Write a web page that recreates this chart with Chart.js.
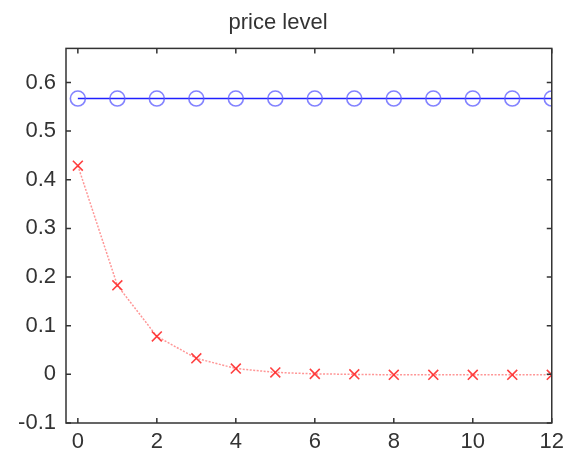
<!DOCTYPE html>
<html>
<head>
<meta charset="utf-8">
<script src="https://cdn.jsdelivr.net/npm/chart.js@4/dist/chart.umd.min.js"></script>
<style>
  html, body { margin: 0; padding: 0; background: #fff; }
  #wrap { width: 570px; height: 457px; }
</style>
</head>
<body>
<div id="wrap"><canvas id="grafico"></canvas></div>
<script>
// datos
const periodos = [0, 1, 2, 3, 4, 5, 6, 7, 8, 9, 10, 11, 12];
const nivelAzul = [0.567, 0.567, 0.567, 0.567, 0.567, 0.567, 0.567, 0.567, 0.567, 0.567, 0.567, 0.567, 0.567];
const nivelRojo = [0.429, 0.183, 0.078, 0.033, 0.012, 0.004, 0.001, 0.0, -0.001, -0.001, -0.001, -0.001, -0.001];
const ticksX = [0, 2, 4, 6, 8, 10, 12];
const ticksY = [-0.1, 0, 0.1, 0.2, 0.3, 0.4, 0.5, 0.6];
const titulo = 'price level';

const puntos = (ys) => periodos.map((x, i) => ({ x: x, y: ys[i] }));
const fuente = 'Liberation Sans, Arial, sans-serif';

// marco y marcas hacia dentro, estilo matlab
const marcoPlugin = {
  id: 'marco',
  afterDraw(chart) {
    const { ctx, chartArea: a, scales } = chart;
    const largo = 5;
    ctx.save();
    ctx.strokeStyle = '#333';
    ctx.lineWidth = 1.5;
    ctx.strokeRect(a.left, a.top, a.right - a.left, a.bottom - a.top);
    ctx.beginPath();
    ticksX.forEach(v => {
      const px = scales.x.getPixelForValue(v);
      ctx.moveTo(px, a.bottom); ctx.lineTo(px, a.bottom - largo);
      ctx.moveTo(px, a.top); ctx.lineTo(px, a.top + largo);
    });
    ticksY.forEach(v => {
      const py = scales.y.getPixelForValue(v);
      ctx.moveTo(a.left, py); ctx.lineTo(a.left + largo, py);
      ctx.moveTo(a.right, py); ctx.lineTo(a.right - largo, py);
    });
    ctx.stroke();
    ctx.restore();
  }
};

const ctx = document.getElementById('grafico').getContext('2d');
const chart = new Chart(ctx, {
  type: 'line',
  data: {
    datasets: [
      {
        label: 'azul',
        data: puntos(nivelAzul),
        borderColor: '#2020ff',
        borderWidth: 1.6,
        pointStyle: 'circle',
        pointRadius: 7.5,
        pointBorderWidth: 1.6,
        pointBorderColor: 'rgba(90, 90, 255, 0.75)',
        pointBackgroundColor: 'rgba(0,0,0,0)',
        fill: false,
        tension: 0
      },
      {
        label: 'rojo',
        data: puntos(nivelRojo),
        borderColor: 'rgba(255, 80, 80, 0.6)',
        borderWidth: 1.5,
        borderDash: [2, 1.5],
        pointStyle: 'crossRot',
        pointRadius: 7,
        pointBorderWidth: 1.6,
        pointBorderColor: 'rgba(255, 30, 30, 0.85)',
        fill: false,
        tension: 0
      }
    ]
  },
  options: {
    responsive: true,
    maintainAspectRatio: false,
    animation: false,
    layout: { padding: { left: 0, right: 14, top: 0, bottom: 0 } },
    plugins: {
      legend: { display: false },
      tooltip: { enabled: false },
      title: {
        display: true,
        text: titulo,
        color: '#333',
        font: { family: fuente, size: 22, weight: 'normal' },
        padding: { top: 10, bottom: 12 }
      }
    },
    scales: {
      x: {
        type: 'linear',
        min: -0.3,
        max: 12,
        afterBuildTicks: s => { s.ticks = ticksX.map(v => ({ value: v })); },
        afterFit: s => { s.height = 34; },
        grid: { display: false, drawTicks: false },
        border: { display: false },
        ticks: {
          padding: 6,
          color: '#333',
          font: { family: fuente, size: 22 }
        }
      },
      y: {
        type: 'linear',
        min: -0.1,
        max: 0.67,
        afterBuildTicks: s => { s.ticks = ticksY.map(v => ({ value: v })); },
        afterFit: s => { s.width = 66; },
        grid: { display: false, drawTicks: false },
        border: { display: false },
        ticks: {
          padding: 10,
          color: '#333',
          callback: v => (Math.round(v * 10) / 10).toString(),
          font: { family: fuente, size: 22 }
        }
      }
    }
  },
  plugins: [marcoPlugin]
});
</script>
</body>
</html>
